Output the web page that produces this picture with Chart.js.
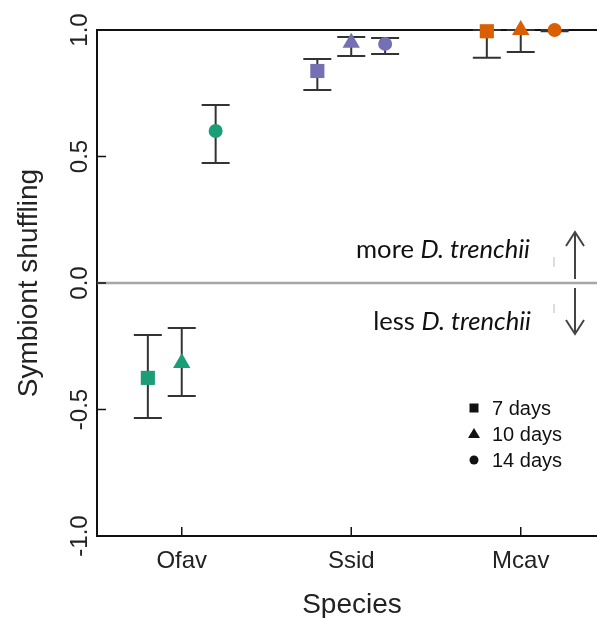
<!DOCTYPE html>
<html>
<head>
<meta charset="utf-8">
<script src="https://cdn.jsdelivr.net/npm/chart.js"></script>
<style>
  html, body { margin: 0; padding: 0; background: #fff; }
  canvas { display: block; }
</style>
</head>
<body>
<canvas id="shuffleChart" width="597" height="618"></canvas>
<script>
// categories and tick labels
var species = ['Ofav', 'Ssid', 'Mcav'];
var dayLabels = ['7 days', '10 days', '14 days'];
var yTicks = [-1, -0.5, 0, 0.5, 1];

// means and error bar ends, one value per species
var mean7   = [-0.375, 0.838, 0.995];
var lower7  = [-0.534, 0.763, 0.890];
var upper7  = [-0.206, 0.885, 1.000];

var mean10  = [-0.316, 0.950, 1.000];
var lower10 = [-0.447, 0.897, 0.913];
var upper10 = [-0.178, 0.972, 1.000];

var mean14  = [0.601, 0.945, 1.000];
var lower14 = [0.474, 0.905, 0.995];
var upper14 = [0.704, 0.968, 1.000];

var means = [mean7, mean10, mean14];
var lowers = [lower7, lower10, lower14];
var uppers = [upper7, upper10, upper14];

var speciesColors = ['#1b9e77', '#7570b3', '#d95f02'];
var shapes = ['rect', 'triangle', 'circle'];
var radii = [10, 10, 7];
var offsets = [-0.2, 0, 0.2];
var FONT = "'Liberation Sans', Arial, sans-serif";

var datasets = means.map(function (m, d) {
  return {
    label: dayLabels[d],
    data: m.map(function (v, i) { return { x: i + offsets[d], y: v }; }),
    pointStyle: shapes[d],
    pointRadius: radii[d],
    pointHoverRadius: radii[d],
    pointBackgroundColor: speciesColors,
    pointBorderColor: speciesColors,
    pointBorderWidth: 0,
    showLine: false,
    clip: false
  };
});

var decor = {
  id: 'decor',
  beforeDatasetsDraw: function (chart) {
    var ctx = chart.ctx, a = chart.chartArea;
    var xs = chart.scales.x, ys = chart.scales.y;
    ctx.save();
    // zero reference line
    var y0 = ys.getPixelForValue(0);
    ctx.strokeStyle = '#a6a6a6';
    ctx.lineWidth = 2.5;
    ctx.beginPath(); ctx.moveTo(a.left, y0); ctx.lineTo(a.right, y0); ctx.stroke();
    // top frame line
    ctx.strokeStyle = '#111';
    ctx.lineWidth = 2;
    ctx.beginPath(); ctx.moveTo(a.left, a.top); ctx.lineTo(a.right, a.top); ctx.stroke();
    // inward tick marks
    ctx.lineWidth = 1.5;
    yTicks.forEach(function (v) {
      var py = ys.getPixelForValue(v);
      ctx.beginPath(); ctx.moveTo(a.left, py); ctx.lineTo(a.left + 9, py); ctx.stroke();
    });
    species.forEach(function (s, i) {
      var px = xs.getPixelForValue(i);
      ctx.beginPath(); ctx.moveTo(px, a.bottom); ctx.lineTo(px, a.bottom - 9); ctx.stroke();
    });
    // error bars
    ctx.strokeStyle = '#333';
    ctx.lineWidth = 2;
    means.forEach(function (m, d) {
      m.forEach(function (v, i) {
        var px = xs.getPixelForValue(i + offsets[d]);
        var lo = ys.getPixelForValue(lowers[d][i]);
        var hi = ys.getPixelForValue(uppers[d][i]);
        ctx.beginPath();
        ctx.moveTo(px, lo); ctx.lineTo(px, hi);
        ctx.moveTo(px - 14, lo); ctx.lineTo(px + 14, lo);
        ctx.moveTo(px - 14, hi); ctx.lineTo(px + 14, hi);
        ctx.stroke();
      });
    });
    ctx.restore();
  },
  afterDraw: function (chart) {
    var ctx = chart.ctx, a = chart.chartArea;
    var ys = chart.scales.y;
    ctx.save();
    ctx.fillStyle = '#222';
    // rotated y tick labels
    ctx.font = '24px ' + FONT;
    ctx.textAlign = 'center';
    ctx.textBaseline = 'alphabetic';
    yTicks.forEach(function (v) {
      ctx.save();
      ctx.translate(a.left - 10, ys.getPixelForValue(v));
      ctx.rotate(-Math.PI / 2);
      ctx.fillText(v.toFixed(1), 0, 0);
      ctx.restore();
    });
    // axis titles
    ctx.font = '28px ' + FONT;
    ctx.save();
    ctx.translate(37, (a.top + a.bottom) / 2);
    ctx.rotate(-Math.PI / 2);
    ctx.fillText('Symbiont shuffling', 0, 0);
    ctx.restore();
    ctx.fillText('Species', 352, 613);

    // annotations
    var fam = "Lato, 'Open Sans', sans-serif";
    ctx.font = '20px ' + fam;
    var w20 = ctx.measureText('more ').width;
    ctx.font = 'italic 20px ' + fam;
    w20 += ctx.measureText('D. trenchii').width;
    var size = 20 * 174 / w20;
    function note(word, right, base) {
      ctx.font = 'italic ' + size + 'px ' + fam;
      ctx.textAlign = 'right';
      ctx.fillStyle = '#111';
      ctx.fillText('D. trenchii', right, base);
      var wi = ctx.measureText('D. trenchii').width;
      ctx.font = size + 'px ' + fam;
      ctx.fillText(word + ' ', right - wi, base);
    }
    note('more', 530, 258);
    note('less', 531, 330);

    // arrows
    ctx.strokeStyle = '#444';
    ctx.lineWidth = 2;
    ctx.beginPath();
    ctx.moveTo(575, 279); ctx.lineTo(575, 232);
    ctx.moveTo(566, 246); ctx.lineTo(575, 232); ctx.lineTo(584, 246);
    ctx.moveTo(575, 288); ctx.lineTo(575, 334);
    ctx.moveTo(566, 320); ctx.lineTo(575, 334); ctx.lineTo(584, 320);
    ctx.stroke();
    ctx.strokeStyle = '#bbb';
    ctx.lineWidth = 1;
    ctx.beginPath();
    ctx.moveTo(554, 257); ctx.lineTo(554, 267);
    ctx.moveTo(554, 304); ctx.lineTo(554, 313);
    ctx.stroke();

    // legend
    ctx.fillStyle = '#111';
    ctx.font = '20px ' + FONT;
    ctx.textAlign = 'left';
    ctx.textBaseline = 'middle';
    dayLabels.forEach(function (lab, d) {
      var cy = 408 + d * 26, cx = 474;
      ctx.beginPath();
      if (d === 0) ctx.rect(cx - 4.5, cy - 4.5, 9, 9);
      else if (d === 1) { ctx.moveTo(cx, cy - 6); ctx.lineTo(cx + 6, cy + 4); ctx.lineTo(cx - 6, cy + 4); ctx.closePath(); }
      else ctx.arc(cx, cy, 4.5, 0, Math.PI * 2);
      ctx.fill();
      ctx.fillText(lab, 492, cy + 1);
    });
    ctx.restore();
  }
};

var ctx = document.getElementById('shuffleChart').getContext('2d');
var chart = new Chart(ctx, {
  type: 'scatter',
  data: { datasets: datasets },
  options: {
    responsive: false,
    animation: false,
    layout: { autoPadding: false, padding: { top: 30, right: 0, left: 0, bottom: 0 } },
    plugins: {
      legend: { display: false },
      tooltip: { enabled: false }
    },
    scales: {
      x: {
        type: 'linear',
        min: -0.5,
        max: 2.45,
        afterBuildTicks: function (s) { s.ticks = species.map(function (n, i) { return { value: i }; }); },
        afterFit: function (s) { s.height = 82; },
        ticks: {
          callback: function (v) { return species[v]; },
          font: { family: FONT, size: 24 },
          color: '#222',
          padding: 11,
          autoSkip: false,
          maxRotation: 0
        },
        grid: { display: false, drawTicks: false },
        border: { display: true, color: '#111', width: 2 }
      },
      y: {
        min: -1,
        max: 1,
        afterBuildTicks: function (s) { s.ticks = yTicks.map(function (v) { return { value: v }; }); },
        afterFit: function (s) { s.width = 97; },
        ticks: { display: false },
        grid: { display: false, drawTicks: false },
        border: { display: true, color: '#111', width: 2 }
      }
    }
  },
  plugins: [decor]
});
</script>
</body>
</html>
